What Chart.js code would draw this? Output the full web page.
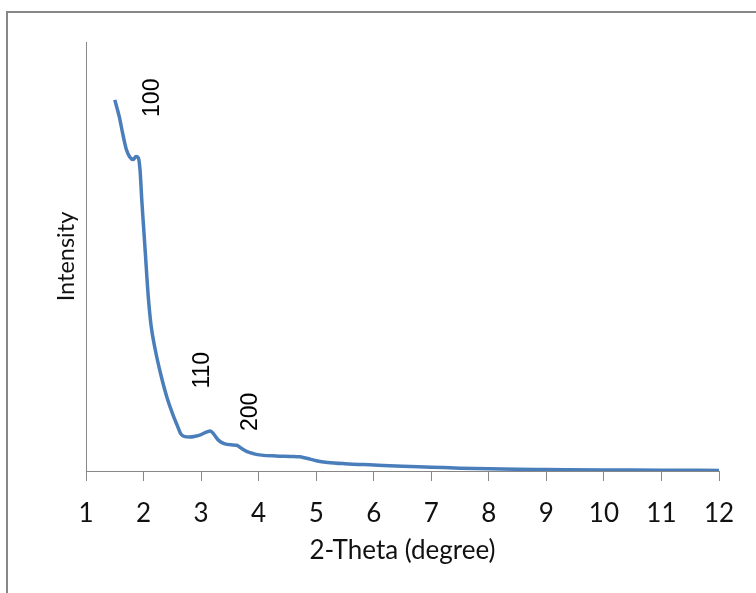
<!DOCTYPE html>
<html>
<head>
<meta charset="utf-8">
<script src="https://cdn.jsdelivr.net/npm/chart.js@4"></script>
<style>
  html, body { margin: 0; padding: 0; background: #fff; }
  #wrap { position: relative; width: 756px; height: 593px; overflow: hidden; }
  #frame { position: absolute; left: 6px; top: 11px; width: 900px; height: 900px;
           border: 2px solid #878787; pointer-events: none; }
</style>
</head>
<body>
<div id="wrap">
  <canvas id="myChart" width="756" height="593"></canvas>
  <div id="frame"></div>
</div>
<script>
// 2-theta values and intensity
const twoTheta = [1.50, 1.58, 1.64, 1.70, 1.76, 1.82, 1.87, 1.91, 1.94, 1.97, 2.00, 2.03, 2.08, 2.13,
  2.20, 2.30, 2.41, 2.50, 2.58, 2.65, 2.72, 2.80, 2.90, 3.00, 3.10, 3.16, 3.22, 3.30, 3.40, 3.52,
  3.62, 3.70, 3.80, 3.92, 4.05, 4.30, 4.55, 4.72, 4.85, 5.00, 5.20, 5.50, 6.00, 6.50, 7.00, 7.50,
  8.00, 8.50, 9.00, 10.0, 11.0, 12.0];
const intensity = [86.5, 82.5, 78.5, 75.0, 73.2, 72.6, 73.3, 73.0, 70, 63, 57, 51, 41, 34,
  28.5, 22.5, 17, 13.5, 10.8, 8.6, 8.0, 7.9, 8.1, 8.5, 9.1, 9.3, 8.6, 7.2, 6.4, 6.1,
  6.0, 5.3, 4.5, 4.0, 3.7, 3.5, 3.4, 3.3, 2.9, 2.4, 2.0, 1.7, 1.4, 1.1, 0.9, 0.65,
  0.5, 0.4, 0.35, 0.25, 0.2, 0.12];

// peak labels (hkl) and where they sit
const peakLabels = ["100", "110", "200"];
const peakX = [2.16, 3.03, 3.87];
const peakY = [87, 23.5, 13.8];

const xTicks = [1, 2, 3, 4, 5, 6, 7, 8, 9, 10, 11, 12];

const points = twoTheta.map((x, i) => ({x: x, y: intensity[i]}));

const peakPlugin = {
    id: 'peakLabels',
    afterDatasetsDraw(chart) {
        const ctx = chart.ctx;
        const xs = chart.scales.x, ys = chart.scales.y;
        ctx.save();
        ctx.font = '23px "Liberation Sans", Arial, sans-serif';
        ctx.fillStyle = '#000';
        ctx.textAlign = 'center';
        ctx.textBaseline = 'middle';
        for (let i = 0; i < peakLabels.length; i++) {
            ctx.save();
            ctx.translate(xs.getPixelForValue(peakX[i]), ys.getPixelForValue(peakY[i]));
            ctx.rotate(-Math.PI / 2);
            ctx.fillText(peakLabels[i], 0, 0);
            ctx.restore();
        }
        ctx.restore();
    }
};

new Chart(document.getElementById('myChart'), {
    type: 'line',
    data: {
        datasets: [{
            data: points,
            borderColor: '#4a7ebb',
            borderWidth: 3.5,
            pointRadius: 0,
            fill: false,
            cubicInterpolationMode: 'monotone'
        }]
    },
    options: {
        responsive: false,
        animation: false,
        layout: { padding: { top: 42, right: 37, left: 0, bottom: 0 } },
        plugins: { legend: { display: false }, tooltip: { enabled: false } },
        scales: {
            x: {
                type: 'linear',
                min: 1,
                max: 12,
                afterBuildTicks: (s) => { s.ticks = xTicks.map(v => ({value: v})); },
                afterFit: (s) => { s.height = 122; },
                ticks: {
                    font: { family: 'Lato', size: 26 },
                    color: '#111',
                    padding: 17,
                    maxRotation: 0,
                    autoSkip: false
                },
                grid: { drawOnChartArea: false, drawTicks: true, tickLength: 10, color: '#878787' },
                border: { color: '#878787', width: 1 },
                title: {
                    display: true,
                    text: '2-Theta (degree)',
                    font: { family: 'Lato', size: 26 },
                    color: '#111',
                    padding: { top: 0, bottom: 27 }
                }
            },
            y: {
                min: 0,
                max: 100,
                afterFit: (s) => { s.width = 86; },
                ticks: { display: false },
                grid: { drawOnChartArea: false, drawTicks: false },
                border: { color: '#878787', width: 1 },
                title: {
                    display: true,
                    text: 'Intensity',
                    font: { family: 'Lato', size: 23.5 },
                    color: '#111',
                    padding: { top: 52, bottom: 0 }
                }
            }
        }
    },
    plugins: [peakPlugin]
});
</script>
</body>
</html>
